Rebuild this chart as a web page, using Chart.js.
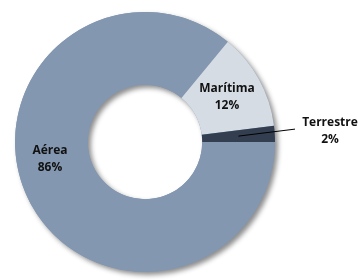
<!DOCTYPE html>
<html>
<head>
<meta charset="utf-8">
<style>
  html, body { margin: 0; padding: 0; background: #fff; }
  #chart { display: block; }
</style>
<script src="https://cdn.jsdelivr.net/npm/chart.js@4/dist/chart.umd.min.js"></script>
</head>
<body>
<canvas id="chart" width="358" height="280"></canvas>
<script>
const categories = ["Aérea", "Marítima", "Terrestre"];
const shares = [86, 12, 2];
const percentLabels = ["86%", "12%", "2%"];
const colors = ["#8497B0", "#D6DCE4", "#333F50"];

// ring drop shadow, drawn once behind the slices
const ringShadow = {
  id: "ringShadow",
  beforeDatasetsDraw(chart) {
    const arc = chart.getDatasetMeta(0).data[0];
    if (!arc) return;
    const ctx = chart.ctx;
    ctx.save();
    ctx.shadowColor = "rgba(0,0,0,0.45)";
    ctx.shadowBlur = 5;
    ctx.shadowOffsetX = 3;
    ctx.shadowOffsetY = 3;
    ctx.beginPath();
    ctx.arc(arc.x, arc.y, arc.outerRadius, 0, Math.PI * 2);
    ctx.arc(arc.x, arc.y, arc.innerRadius, 0, Math.PI * 2, true);
    ctx.fillStyle = colors[0];
    ctx.fill();
    ctx.restore();
  }
};

// labels: inside at the slice middle, or outside with a leader line
const sliceLabels = {
  id: "sliceLabels",
  afterDatasetsDraw(chart) {
    const ctx = chart.ctx;
    const meta = chart.getDatasetMeta(0);
    const place = [
      { angleShift: 0.27, radius: 1.03, outside: false },
      { angleShift: 0, radius: 1.0, outside: false },
      { angleShift: 0, radius: 1.0, outside: true }
    ];
    ctx.save();
    ctx.font = "bold 12px 'Open Sans', sans-serif";
    ctx.fillStyle = "#111";
    ctx.textAlign = "center";
    ctx.textBaseline = "middle";
    meta.data.forEach((arc, i) => {
      const p = place[i];
      const mid = (arc.startAngle + arc.endAngle) / 2 + p.angleShift;
      const r = (arc.innerRadius + arc.outerRadius) / 2 * p.radius;
      let x = arc.x + Math.cos(mid) * r;
      let y = arc.y + Math.sin(mid) * r;
      if (p.outside) {
        const ex = arc.x + arc.outerRadius + 20;
        const ey = y - 7;
        ctx.beginPath();
        ctx.moveTo(x, y);
        ctx.lineTo(ex, ey);
        ctx.strokeStyle = "#000";
        ctx.lineWidth = 1;
        ctx.stroke();
        x = ex + 35;
        y = ey + 1;
      }
      ctx.fillText(categories[i], x, y - 8);
      ctx.fillText(percentLabels[i], x, y + 9);
    });
    ctx.restore();
  }
};

new Chart(document.getElementById("chart").getContext("2d"), {
  type: "doughnut",
  data: {
    labels: categories,
    datasets: [{
      data: shares,
      backgroundColor: colors,
      borderWidth: 0
    }]
  },
  options: {
    responsive: false,
    animation: false,
    rotation: 90,
    cutout: "44%",
    layout: { padding: { left: 15, right: 83, top: 12, bottom: 8 } },
    plugins: {
      legend: { display: false },
      tooltip: { enabled: false }
    }
  },
  plugins: [ringShadow, sliceLabels]
});
</script>
</body>
</html>
